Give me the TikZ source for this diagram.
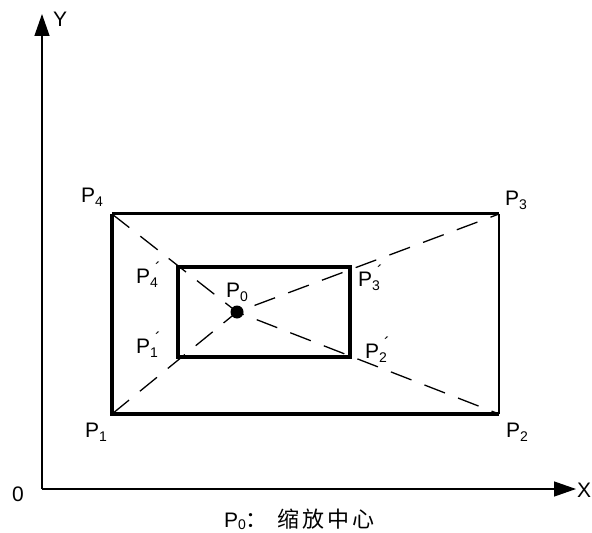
\documentclass[tikz,border=0pt]{standalone}
\usepackage{fontspec}
\setmainfont{Liberation Sans}
\newfontfamily\cjkfont{Noto Sans CJK SC}
\usetikzlibrary{arrows.meta}
\newcommand\mainsz{\fontsize{21bp}{21bp}\selectfont}
\newcommand\subsz{\fontsize{14bp}{14bp}\selectfont}
\newcommand\primesz{\fontsize{17bp}{17bp}\selectfont}
\newcommand\Plab[1]{P\raisebox{-4bp}{\subsz #1}}
\newcommand\Pprime[1]{P\makebox[0pt][l]{\hspace{5bp}\raisebox{9bp}{\primesz\char"00B4}}\raisebox{-4bp}{\subsz #1}}
\begin{document}
\begin{tikzpicture}[x=1bp,y=-1bp,
  lab/.style={inner sep=0pt,anchor=base west,font=\mainsz},
  axis/.style={line width=1.3bp,-{Triangle[length=22bp,width=15bp]}},
  outerbox/.style={line width=3.5bp,line cap=square},
  innerbox/.style={line width=4bp},
  dashline/.style={line width=1.3bp,dash pattern=on 22bp off 14bp}]
\useasboundingbox (0,0) rectangle (592,533);
% axes
\coordinate (O) at (42,489);
\coordinate (Ytip) at (42,14);
\coordinate (Xtip) at (576,489);
\draw[axis] (O) -- (Ytip);
\draw[axis] (O) -- (Xtip);
% rectangles
\coordinate (A1) at (112,414);
\coordinate (A2) at (499,414);
\coordinate (A3) at (499,214);
\coordinate (A4) at (112,214);
\coordinate (B1) at (178,357);
\coordinate (B2) at (350,357);
\coordinate (B3) at (350,267);
\coordinate (B4) at (178,267);
\coordinate (C) at (237,312);
\draw[dashline] (A4) -- (C) -- (A2);
\draw[dashline] (A1) -- (C) -- (A3);
\draw[outerbox,line width=3bp] (A3) -- (A4);
\draw[outerbox,line width=2.6bp] (A2) -- (A3);
\draw[outerbox,line width=4bp] (A4) -- (A1) -- (A2);
\draw[innerbox] (B1) -- (B2) -- (B3) -- (B4) -- cycle;
\fill (C) circle (6.5bp);
% labels
\node[lab] (ly) at (53,27) {Y};
\node[lab] (lx) at (577,497) {X};
\node[lab] (lo) at (12,501) {0};
\node[lab] (p4) at (81,203) {\Plab{4}};
\node[lab] (p3) at (505,206) {\Plab{3}};
\node[lab] (p1) at (85,437) {\Plab{1}};
\node[lab] (p2) at (506,437) {\Plab{2}};
\node[lab] (p0) at (226,297) {\Plab{0}};
\node[lab] (p4q) at (136,283) {\Pprime{4}};
\node[lab] (p1q) at (136,353) {\Pprime{1}};
\node[lab] (p3q) at (358,286) {\Pprime{3}};
\node[lab] (p2q) at (365,358) {\Pprime{2}};
\node[lab] (cap) at (224,527) {P\raisebox{-2bp}{\subsz 0}{\cjkfont\fontsize{22bp}{22bp}\selectfont ：\hspace{10bp}缩\hspace{3bp}放\hspace{3bp}中\hspace{3bp}心}};
\end{tikzpicture}
\end{document}
